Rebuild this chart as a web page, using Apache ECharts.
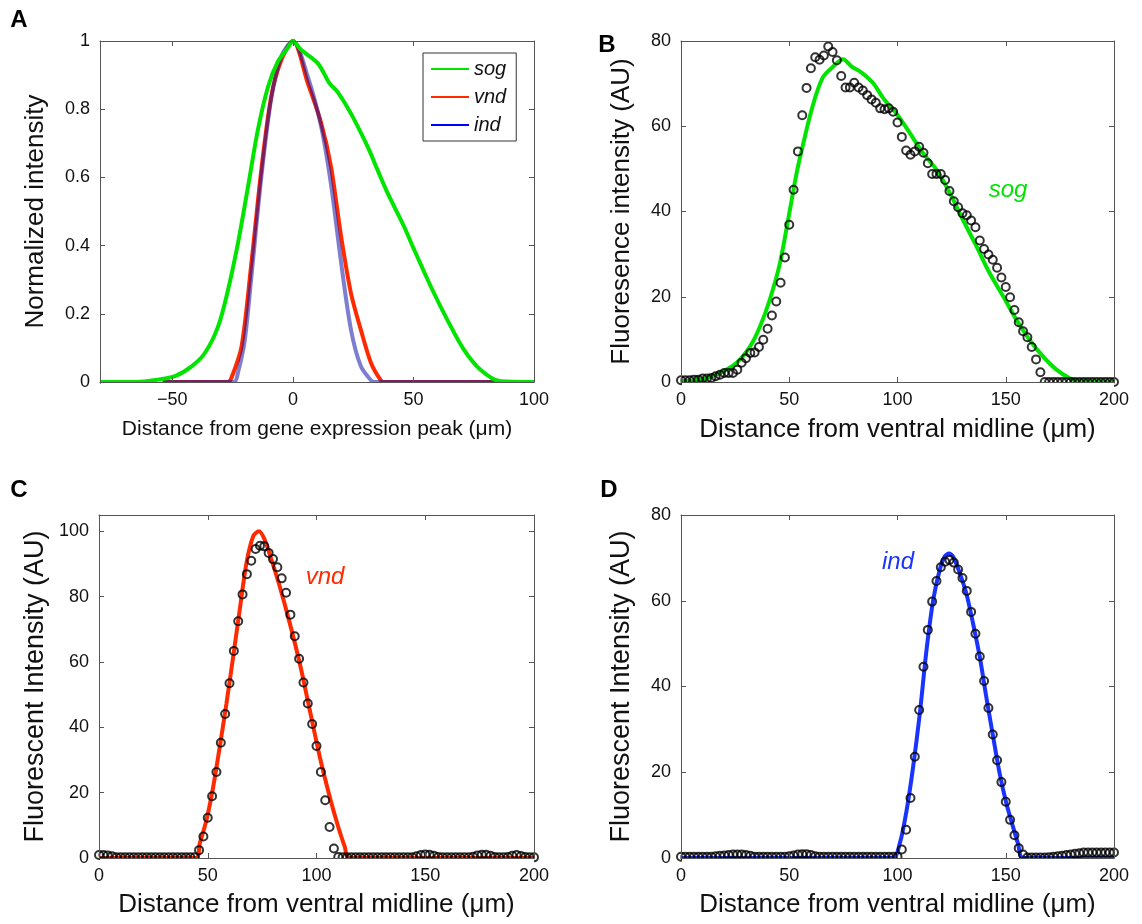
<!DOCTYPE html>
<html>
<head>
<meta charset="utf-8">
<script src="https://cdn.jsdelivr.net/npm/echarts@6/dist/echarts.min.js"></script>
<style>
html,body{margin:0;padding:0;background:#fff;}
#chart{width:1142px;height:924px;}
</style>
</head>
<body>
<div id="chart"></div>
<script>
// ---------- Panel A : normalized profiles ----------
const aSogX = [-80,-65,-55.8,-48.9,-42,-36.5,-31,-26.9,-22.7,-18.6,-14.5,-10.3,-6.2,-2.1,0,3.4,10.3,15.2,18.6,24.1,31,35.1,39.3,46.1,50.3,57.2,64,70.9,77.8,86,100];
const aSogY = [0,0,0.007,0.017,0.046,0.085,0.163,0.27,0.41,0.573,0.74,0.866,0.94,0.98,1,0.974,0.935,0.876,0.85,0.787,0.69,0.622,0.554,0.456,0.388,0.28,0.183,0.095,0.036,0.002,0];
const aVndX = [-54,-27,-25.5,-21.3,-17.2,-13.1,-9,-4.8,0,6.2,11.7,15.8,20,24.1,28.2,32.4,36.5,38,86];
const aVndY = [0,0,0.012,0.104,0.35,0.622,0.837,0.944,1,0.876,0.76,0.632,0.427,0.26,0.153,0.056,0.005,0,0];
const aIndX = [-54,-24.5,-22.7,-20,-17.2,-13.1,-9,-4.8,0,6.2,11.7,15.8,20,24.1,28.2,32.4,34,86];
const aIndY = [0,0,0.03,0.12,0.31,0.6,0.83,0.955,1,0.895,0.75,0.58,0.35,0.153,0.046,0.005,0,0];

// ---------- Panel B : sog ----------
const bDotX = [0,2,4,6,8,10,12,14,16,18,20,22,24,26,28,30,32,34,36,38,40,42,44,46,48,50,52,54,56,58,60,62,64,66,68,70,72,74,76,78,80,82,84,86,88,90,92,94,96,98,100,102,104,106,108,110,112,114,116,118,120,122,124,126,128,130,132,134,136,138,140,142,144,146,148,150,152,154,156,158,160,162,164,166,168,170,172,174,176,178,180,182,184,186,188,190,192,194,196,198,200];
const bDotY = [0.4,0.4,0.4,0.55,0.55,0.8,0.8,0.95,1.33,1.72,2.1,2.1,2.1,2.9,4.5,5.6,6.8,6.95,8.2,9.9,12.5,15.6,18.9,23.3,29.2,36.9,45.1,54.1,62.6,69,73.6,76.2,75.6,76.6,78.7,77.4,75.5,71.8,69.1,69.1,70.2,69.1,68.4,67.3,66.3,65.5,64.2,64,64.2,63.4,60.9,57.5,54.3,53.3,54.1,55.2,53.8,51.3,48.8,48.8,48.8,47.4,44.8,42.4,41,39.6,39.1,37.9,36.3,33.2,31.2,29.9,28.7,26.8,24.5,22.3,19.9,16.9,14,11.9,10.5,8.2,5.3,2.3,0,0,0,0,0,0,0,0,0,0,0,0,0,0,0,0,0];
const bFitX = [0,10.3,18,25.7,32,36.5,41,45.7,50.3,53.4,56.5,59.5,62.6,65.7,70.3,74.9,78.8,83.4,88.8,93.4,99.5,105.7,111.8,118,124.2,130.3,136.5,142.6,148.8,154.9,161,167.2,173.4,179.5,184,200];
const bFitY = [0.2,0.7,2.1,4.5,8.4,13,19.3,27.9,40.4,49,56,62.3,67.7,71.6,74,75.7,74,72.6,70.1,66.6,63,58.4,53.7,49.8,44.3,38,31.8,25.5,20.1,14.6,9.9,6,2.9,0.9,0.15,0];

// ---------- Panel C : vnd ----------
const cDotX = bDotX;
const cDotY = [0.9,0.9,0.8,0.5,0.2,0.2,0.2,0.2,0.2,0.2,0.2,0.2,0.2,0.2,0.2,0.2,0.2,0.2,0.2,0.2,0.2,0.2,0.2,2.4,6.6,12.3,18.9,26.3,35.3,44.1,53.5,63.4,72.5,80.7,86.9,91,94.6,95.6,95.4,93.4,91.5,89,85.6,81.2,74.5,67.9,61,53.7,47.3,41,34.3,26.3,17.7,9.5,2.9,0.3,0.2,0.2,0.2,0.2,0.2,0.2,0.2,0.2,0.2,0.2,0.2,0.2,0.2,0.2,0.2,0.2,0.2,0.5,0.9,1.1,1.0,0.7,0.3,0.2,0.2,0.2,0.2,0.2,0.2,0.2,0.4,0.8,1.0,1.0,0.7,0.3,0.2,0.2,0.3,0.7,0.9,0.6,0.3,0.2,0.2];
const cFitX = [0,44.5,46.3,49.4,52.5,55.5,58.6,61.7,64.7,67.8,70.9,73.5,76.2,79.3,83.1,87.7,92.3,96.9,101.5,106.1,110,113,115,200];
const cFitY = [0,0,4.4,11.6,21.8,34,47.3,61.7,76,90.3,98.5,100,97.4,91.3,83.1,71.9,59.6,45.3,31,18.7,9.5,3.4,0,0];

// ---------- Panel D : ind ----------
const dDotX = bDotX;
const dDotY = [0.3,0.3,0.3,0.3,0.3,0.3,0.3,0.3,0.4,0.5,0.6,0.7,0.8,0.8,0.8,0.7,0.5,0.3,0.3,0.3,0.3,0.3,0.3,0.3,0.3,0.4,0.6,0.8,0.9,0.9,0.7,0.4,0.3,0.3,0.3,0.3,0.3,0.3,0.3,0.3,0.3,0.3,0.3,0.3,0.3,0.3,0.3,0.3,0.3,0.3,0.3,2,6.6,14,23.6,34.5,44.6,53.2,59.8,64.6,67.8,69.1,69.5,68.9,67.3,65.3,62.3,57.4,52.3,47,41.3,35,28.8,22.8,17.7,13.1,8.9,5.3,2.3,0.8,0.1,0.1,0.1,0.1,0.1,0.2,0.3,0.4,0.5,0.7,0.8,1.0,1.1,1.3,1.3,1.3,1.3,1.3,1.3,1.3,1.3];
const dFitX = [0,97.7,101,104.2,107.2,110.3,113.4,116.5,119.5,121.8,123.8,125.7,128.8,131.8,134.9,138,141,144.2,147.2,150.3,153.4,155.7,158,200];
const dFitY = [0,0,3.3,11.1,21.2,33.7,48.5,60.2,67.2,70.3,71,70.3,66.4,61.7,54.7,46.9,37.6,28.2,19.7,12.7,7.2,3.3,0,0];

// ---------- tick labels ----------
const aXTicks = [-50,0,50,100];
const aYTicks = [0,0.2,0.4,0.6,0.8,1];
const distTicks = [0,50,100,150,200];
const bYTicks = [0,20,40,60,80];
const cYTicks = [0,20,40,60,80,100];
const dYTicks = [0,20,40,60,80];

const FONT = '"Liberation Sans", Arial, Helvetica, sans-serif';
const AX = '#555';
const TXT = '#111';
const GREEN = '#00e400';
const RED = '#ff2a00';
const BLUE = '#1a34ff';

const grids = [
  {left:100, top:41, width:434, height:341},
  {left:681, top:41, width:433, height:341},
  {left:99, top:515, width:435, height:343},
  {left:681, top:515, width:433, height:343}
];

function pairs(xs, ys){ return xs.map((x,i)=>[x, ys[i]]); }
function fmt(v){ return v < 0 ? '\u2212' + Math.abs(v) : String(v); }

function mainX(g, min, max, ticks, name, fs, gap){
  return {gridIndex:g, type:'value', min:min, max:max, position:'bottom',
    axisLine:{onZero:false, lineStyle:{color:AX, width:1}},
    axisTick:{inside:true, length:5, customValues:ticks, lineStyle:{color:AX}},
    axisLabel:{customValues:ticks, formatter:fmt, color:TXT, fontSize:18, fontFamily:FONT, margin:9},
    splitLine:{show:false},
    name:name, nameLocation:'middle', nameGap:gap,
    nameTextStyle:{fontSize:fs, color:TXT, fontFamily:FONT}, z:10};
}
function mirrorX(g, min, max, ticks){
  return {gridIndex:g, type:'value', min:min, max:max, position:'top',
    axisLine:{onZero:false, lineStyle:{color:AX, width:1}},
    axisTick:{inside:true, length:5, customValues:ticks, lineStyle:{color:AX}},
    axisLabel:{show:false}, splitLine:{show:false}, z:10};
}
function mainY(g, min, max, ticks, name, fs, gap){
  return {gridIndex:g, type:'value', min:min, max:max, position:'left',
    axisLine:{onZero:false, lineStyle:{color:AX, width:1}},
    axisTick:{inside:true, length:5, customValues:ticks, lineStyle:{color:AX}},
    axisLabel:{customValues:ticks, formatter:fmt, color:TXT, fontSize:18, fontFamily:FONT, margin:10},
    splitLine:{show:false},
    name:name, nameLocation:'middle', nameGap:gap, nameRotate:90,
    nameTextStyle:{fontSize:fs, color:TXT, fontFamily:FONT}, z:10};
}
function mirrorY(g, min, max, ticks){
  return {gridIndex:g, type:'value', min:min, max:max, position:'right',
    axisLine:{onZero:false, lineStyle:{color:AX, width:1}},
    axisTick:{inside:true, length:5, customValues:ticks, lineStyle:{color:AX}},
    axisLabel:{show:false}, splitLine:{show:false}, z:10};
}

const distName = 'Distance from ventral midline (\u03bcm)';
const xAxes = [
  mainX(0,-80,100,aXTicks,'Distance from gene expression peak (\u03bcm)',21,37),
  mainX(1,0,200,distTicks,distName,26,35),
  mainX(2,0,200,distTicks,distName,26,34),
  mainX(3,0,200,distTicks,distName,26,34),
  mirrorX(0,-80,100,aXTicks),
  mirrorX(1,0,200,distTicks),
  mirrorX(2,0,200,distTicks),
  mirrorX(3,0,200,distTicks)
];
const yAxes = [
  mainY(0,0,1,aYTicks,'Normalized intensity',26,51),
  mainY(1,0,80,bYTicks,'Fluoresence intensity (AU)',26,46),
  mainY(2,0,105,cYTicks,'Fluorescent Intensity (AU)',27,50),
  mainY(3,0,80,dYTicks,'Fluorescent Intensity (AU)',27,46),
  mirrorY(0,0,1,aYTicks),
  mirrorY(1,0,80,bYTicks),
  mirrorY(2,0,105,cYTicks),
  mirrorY(3,0,80,dYTicks)
];

function lineSeries(name, xi, data, color, width, opacity, z){
  return {name:name, type:'line', xAxisIndex:xi, yAxisIndex:xi, data:data,
    symbol:'none', smooth:0.3, z:z, color:color,
    lineStyle:{color:color, width:width, opacity:opacity}, silent:true, animation:false};
}
function dotSeries(xi, data){
  return {type:'scatter', xAxisIndex:xi, yAxisIndex:xi, data:data,
    symbol:'circle', symbolSize:8, z:5,
    itemStyle:{color:'rgba(0,0,0,0)', borderColor:'#000', borderWidth:2},
    silent:true, animation:false};
}

const series = [
  lineSeries('vnd',0,pairs(aVndX,aVndY),RED,4,1,2),
  lineSeries('ind',0,pairs(aIndX,aIndY),'rgb(20,20,170)',4,0.55,3),
  lineSeries('sog',0,pairs(aSogX,aSogY),GREEN,4,1,4),
  lineSeries('sogB',1,pairs(bFitX,bFitY),GREEN,4,1,2),
  dotSeries(1,pairs(bDotX,bDotY)),
  lineSeries('vndC',2,pairs(cFitX,cFitY),RED,4,1,2),
  dotSeries(2,pairs(cDotX,cDotY)),
  lineSeries('indD',3,pairs(dFitX,dFitY),BLUE,4,1,2),
  dotSeries(3,pairs(dDotX,dDotY))
];

function mask(g){
  return {type:'rect', shape:{x:g.left+1, y:g.top+g.height+1, width:g.width-1, height:6},
    style:{fill:'#fff'}, z:100, silent:true};
}
function txt(x,y,s,font,color){
  return {type:'text', x:x, y:y, z:110, silent:true,
    style:{text:s, font:font, fill:color, align:'center', verticalAlign:'middle'}};
}
const LFONT = 'bold 24px ' + FONT;
const IFONT = 'italic 24px ' + FONT;

const option = {
  backgroundColor:'#fff',
  animation:false,
  textStyle:{fontFamily:FONT},
  grid: grids,
  xAxis: xAxes,
  yAxis: yAxes,
  legend:{
    left:423, top:53, orient:'vertical', itemWidth:38, itemHeight:2, itemGap:8,
    padding:[6,10,6,8], borderColor:'#333', borderWidth:1, backgroundColor:'#fff',
    icon:'rect',
    textStyle:{fontStyle:'italic', fontSize:20, color:TXT, fontFamily:FONT},
    data:[
      {name:'sog', itemStyle:{color:GREEN, opacity:1}},
      {name:'vnd', itemStyle:{color:RED, opacity:1}},
      {name:'ind', itemStyle:{color:'#0000ff', opacity:1}}
    ],
    selectedMode:false
  },
  graphic: [
    mask(grids[0]), mask(grids[1]), mask(grids[2]), mask(grids[3]),
    txt(19,20,'A',LFONT,'#000'),
    txt(607,45,'B',LFONT,'#000'),
    txt(19,490,'C',LFONT,'#000'),
    txt(609,490,'D',LFONT,'#000'),
    txt(1008,190,'sog',IFONT,GREEN),
    txt(325,577,'vnd',IFONT,RED),
    txt(898,562,'ind',IFONT,BLUE)
  ],
  series: series
};

const chart = echarts.init(document.getElementById('chart'), null, {renderer:'canvas'});
chart.setOption(option);
</script>
</body>
</html>
